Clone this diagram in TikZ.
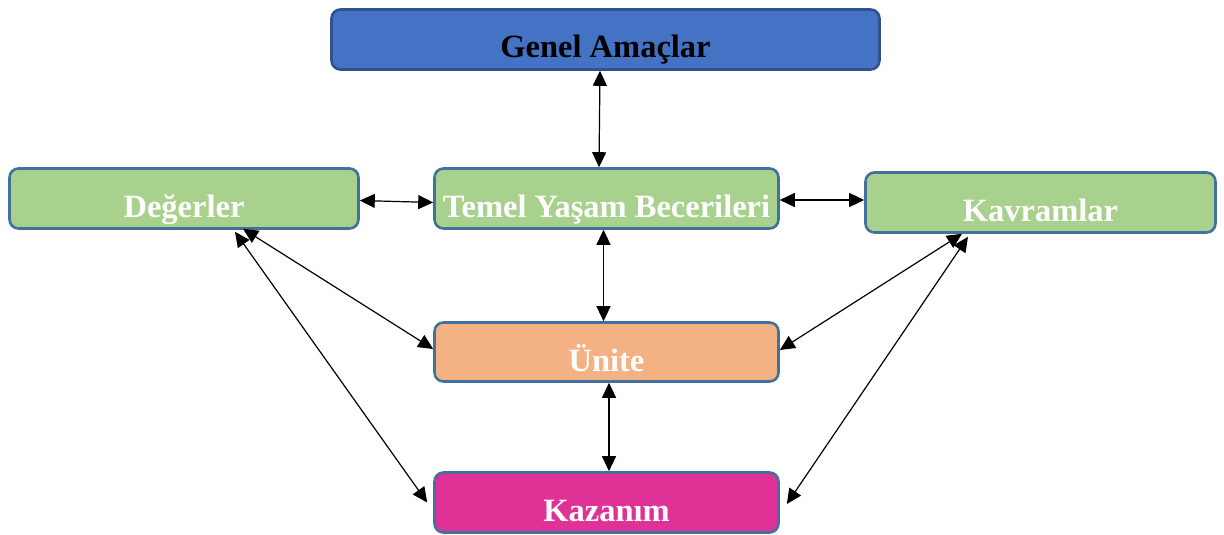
\documentclass[tikz,border=0pt]{standalone}
\usepackage{fontspec}
\setmainfont{Liberation Serif}
\usetikzlibrary{arrows.meta}

\definecolor{topblue}{HTML}{4472C4}
\definecolor{topedge}{HTML}{2F528F}
\definecolor{boxedge}{HTML}{41719C}
\definecolor{boxgreen}{HTML}{A9D18E}
\definecolor{boxorange}{HTML}{F4B183}
\definecolor{boxpink}{HTML}{E03296}

\tikzset{
  box/.style={draw=boxedge, line width=2.6pt, rounded corners=9pt,
    minimum height=60pt, inner sep=0pt},
  caption/.style={anchor=base, font=\fontsize{32.5}{35}\selectfont\bfseries,
    text=white, inner sep=0pt},
  link/.style={line width=1.2pt, draw=black,
    {Triangle[length=15pt,width=14pt]}-{Triangle[length=15pt,width=14pt]}}
}

\begin{document}
\begin{tikzpicture}[x=1pt, y=-1pt]
\useasboundingbox (0,0) rectangle (1224,535);

% boxes
\node[box, draw=topedge, fill=topblue, minimum width=548pt] (ga) at (605.5,39.5) {};
\node[box, fill=boxgreen, minimum width=349pt] (deg) at (184,198.5) {};
\node[box, fill=boxgreen, minimum width=344pt] (tyb) at (606.5,198.5) {};
\node[box, fill=boxgreen, minimum width=350pt] (kav) at (1040.5,202.5) {};
\node[box, fill=boxorange, minimum width=344pt, minimum height=59pt] (uni) at (606.5,352) {};
\node[box, fill=boxpink, minimum width=344pt] (kaz) at (606.5,502.5) {};

% captions
\node[caption, text=black] (gat) at ([yshift=-18.5pt]ga.center) {Genel Amaçlar};
\node[caption] (degt) at ([yshift=-18.5pt]deg.center) {Değerler};
\node[caption] (tybt) at ([yshift=-18.5pt]tyb.center) {Temel Yaşam Becerileri};
\node[caption] (kavt) at ([yshift=-18.5pt]kav.center) {Kavramlar};
\node[caption] (unit) at ([yshift=-19.5pt]uni.center) {Ünite};
\node[caption] (kazt) at ([yshift=-19pt]kaz.center) {Kazanım};

% connectors
\draw[link] ([xshift=-5.5pt]ga.south) -- ([xshift=-7.5pt]tyb.north);
\draw[link] ([yshift=-2pt]deg.east) -- ([yshift=-4pt]tyb.west);
\draw[link] ([yshift=-1.5pt]tyb.east) -- ([yshift=2.5pt]kav.west);
\draw[link] ([xshift=-3pt]tyb.south) -- ([xshift=-3pt]uni.north);
\draw[link] ([xshift=2.5pt]uni.south) -- ([xshift=2.5pt]kaz.north);
\draw[link] ([xshift=59pt,yshift=1pt]deg.south) -- ([yshift=3pt]uni.west);
\draw[link] ([xshift=51pt,yshift=-2pt]deg.south) -- ([xshift=-6pt]kaz.west);
\draw[link] ([xshift=-78.5pt]kav.south) -- ([yshift=2pt]uni.east);
\draw[link] ([xshift=-72.5pt,yshift=-3pt]kav.south) -- ([xshift=7pt,yshift=-1.5pt]kaz.east);
\end{tikzpicture}
\end{document}
